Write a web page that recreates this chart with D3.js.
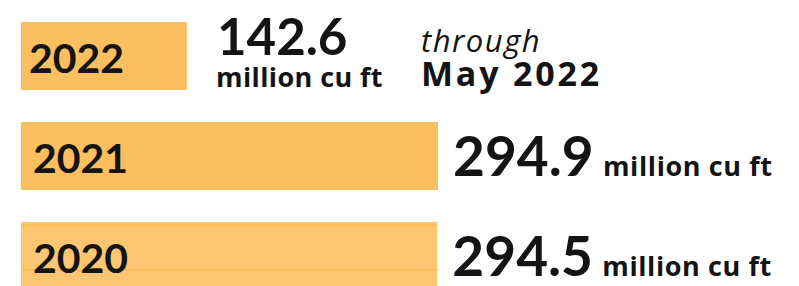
<!DOCTYPE html>
<html>
<head>
<meta charset="utf-8">
<script src="https://cdn.jsdelivr.net/npm/d3@7"></script>
<style>
  body { margin: 0; background: #fff; }
  svg { display: block; }
  text { fill: #141414; }
</style>
</head>
<body>
<div id="chart"></div>
<script>
// data
const years = ["2022", "2021", "2020"];
const volumes = [142.6, 294.9, 294.5];   // million cu ft
const unit = "million cu ft";
const note = ["through", "May 2022"];

const svgWidth = 799;
const svgHeight = 286;
const barLeft = 21;

const svg = d3.select("#chart").append("svg")
    .attr("width", svgWidth)
    .attr("height", svgHeight);

// bars in the source graphic are not drawn from zero
const xScale = d3.scaleLinear()
    .domain([42, 294.9])
    .range([0, 417]);

const yScale = d3.scaleBand()
    .domain(years)
    .range([22, 290])
    .paddingInner(0.32)
    .paddingOuter(0);

const rows = years.map((y, i) => ({ year: y, value: volumes[i] }));

// bars
svg.selectAll("rect.bar")
    .data(rows)
    .enter()
    .append("rect")
    .attr("class", "bar")
    .attr("x", barLeft)
    .attr("y", d => yScale(d.year))
    .attr("width", d => xScale(d.value))
    .attr("height", yScale.bandwidth())
    .style("fill", d => d.year === "2020" ? "#fcc670" : "#fbbf5f");

// faint stripes on the 2020 bar (scan artefact in the original)
[3, 48].forEach(off => {
    svg.append("line")
        .attr("x1", barLeft)
        .attr("x2", barLeft + xScale(volumes[2]))
        .attr("y1", yScale("2020") + off)
        .attr("y2", yScale("2020") + off)
        .attr("stroke", "#f7b64e")
        .attr("stroke-width", 1.2);
});

// year labels inside the bars
svg.selectAll("text.year")
    .data(rows)
    .enter()
    .append("text")
    .attr("class", "year")
    .attr("x", d => barLeft + (d.year === "2022" ? 8 : 12))
    .attr("y", d => yScale(d.year) + 51)
    .style("font-family", "Lato, 'Noto Sans', sans-serif")
    .style("font-weight", 700)
    .style("font-size", "41px")
    .text(d => d.year);

// value labels for full years
const full = rows.filter(d => d.year !== "2022");
svg.selectAll("text.val")
    .data(full)
    .enter()
    .append("text")
    .attr("class", "val")
    .attr("x", d => barLeft + xScale(d.value) + 15)
    .attr("y", d => yScale(d.year) + 54)
    .style("font-family", "Lato, 'Noto Sans', sans-serif")
    .style("font-weight", 700)
    .style("font-size", "55px")
    .text(d => d.value.toFixed(1));

svg.selectAll("text.unit")
    .data(full)
    .enter()
    .append("text")
    .attr("class", "unit")
    .attr("x", d => barLeft + xScale(d.value) + 165)
    .attr("y", d => yScale(d.year) + 54)
    .style("font-family", "'Open Sans', 'Noto Sans', sans-serif")
    .style("font-weight", 700)
    .style("font-size", "27px")
    .style("letter-spacing", "0.6px")
    .text(unit);

// 2022 partial-year label
svg.append("text")
    .attr("x", 217)
    .attr("y", 55)
    .style("font-family", "Lato, 'Noto Sans', sans-serif")
    .style("font-weight", 700)
    .style("font-size", "51px")
    .text(volumes[0].toFixed(1));

svg.append("text")
    .attr("x", 216)
    .attr("y", 87)
    .style("font-family", "'Open Sans', 'Noto Sans', sans-serif")
    .style("font-weight", 700)
    .style("font-size", "27px")
    .style("letter-spacing", "0.4px")
    .text(unit);

svg.append("text")
    .attr("x", 421)
    .attr("y", 52)
    .style("font-family", "'Open Sans', 'Noto Sans', sans-serif")
    .style("font-style", "italic")
    .style("font-size", "31px")
    .style("letter-spacing", "1.5px")
    .text(note[0]);

svg.append("text")
    .attr("x", 421)
    .attr("y", 86)
    .style("font-family", "'Open Sans', 'Noto Sans', sans-serif")
    .style("font-weight", 700)
    .style("font-size", "34px")
    .style("letter-spacing", "2.8px")
    .text(note[1]);
</script>
</body>
</html>
